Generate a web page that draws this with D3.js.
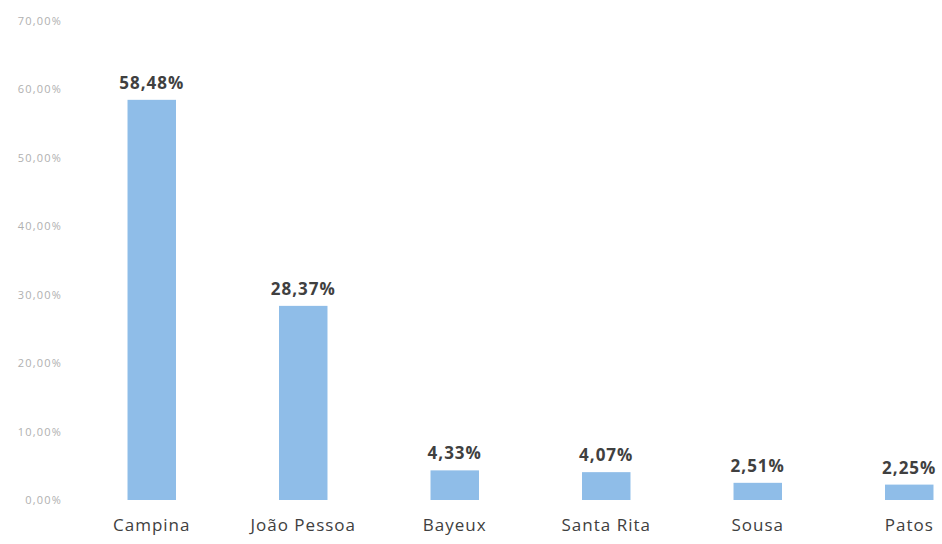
<!DOCTYPE html>
<html>
<head>
<meta charset="utf-8">
<script src="https://cdn.jsdelivr.net/npm/d3@7"></script>
<style>
  html, body { margin: 0; padding: 0; background: #fff; }
  svg { display: block; }
</style>
</head>
<body>
<svg id="chart" width="942" height="544"></svg>
<script>
// Share of records per city (percent)
const cities = ["Campina", "João Pessoa", "Bayeux", "Santa Rita", "Sousa", "Patos"];
const shares = [58.48, 28.37, 4.33, 4.07, 2.51, 2.25];
const yTicks = [0, 10, 20, 30, 40, 50, 60, 70];

const fmt = v => v.toFixed(2).replace(".", ",") + "%";

const svg = d3.select("#chart");

const x = d3.scaleBand()
  .domain(cities)
  .range([76, 985])
  .paddingInner(0.68)
  .paddingOuter(0.34);

const y = d3.scaleLinear()
  .domain([0, 70])
  .range([500, 21]);

// Y axis: labels only, no line or ticks
const yAxis = svg.append("g")
  .attr("transform", "translate(62,0)")
  .call(d3.axisLeft(y).tickValues(yTicks).tickFormat(d => fmt(d)).tickSize(0).tickPadding(0));
yAxis.select(".domain").remove();
yAxis.selectAll("text")
  .attr("font-family", "'Open Sans', sans-serif")
  .attr("font-size", 11)
  .attr("letter-spacing", "1.2px")
  .attr("fill", "#b0b0b0");

// Bars
svg.append("g")
  .selectAll("rect")
  .data(cities)
  .join("rect")
  .attr("x", d => x(d))
  .attr("width", x.bandwidth())
  .attr("y", (d, i) => y(shares[i]))
  .attr("height", (d, i) => y(0) - y(shares[i]))
  .attr("fill", "#8fbde8");

// Value labels above bars
svg.append("g")
  .selectAll("text")
  .data(cities)
  .join("text")
  .attr("x", d => x(d) + x.bandwidth() / 2)
  .attr("y", (d, i) => y(shares[i]) - 11)
  .attr("text-anchor", "middle")
  .attr("font-family", "'Open Sans', sans-serif")
  .attr("font-weight", "bold")
  .attr("font-size", 17)
  .attr("letter-spacing", "1px")
  .attr("fill", "#404040")
  .text((d, i) => fmt(shares[i]));

// Category labels
const xAxis = svg.append("g")
  .attr("transform", "translate(0,500)")
  .call(d3.axisBottom(x).tickSize(0).tickPadding(19));
xAxis.select(".domain").remove();
xAxis.selectAll("text")
  .attr("font-family", "'Open Sans', sans-serif")
  .attr("font-size", 17)
  .attr("letter-spacing", "1px")
  .attr("fill", "#404040");
</script>
</body>
</html>
